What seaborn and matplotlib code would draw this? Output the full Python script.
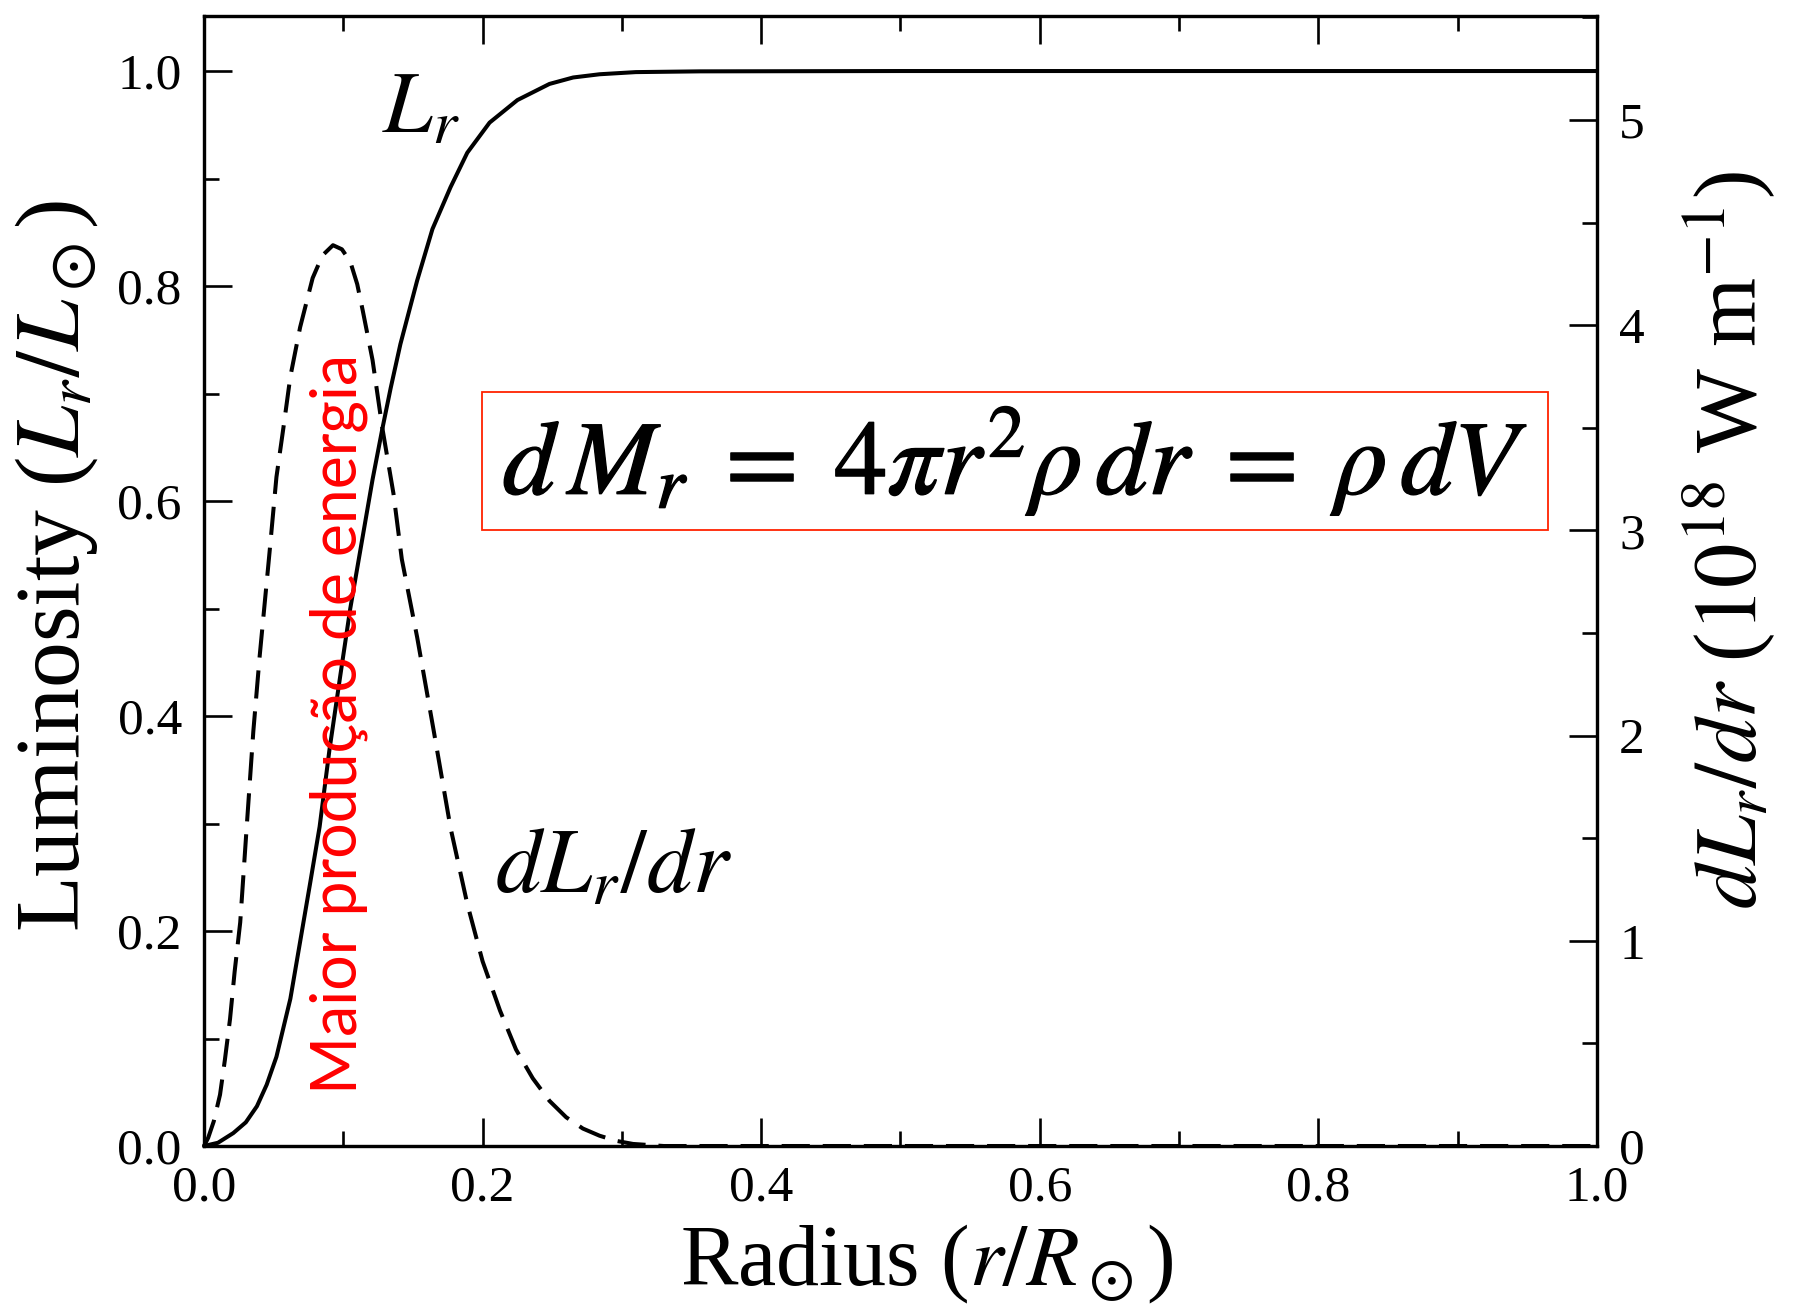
import matplotlib
matplotlib.use("Agg")
import matplotlib.pyplot as plt
import matplotlib.patheffects as pe
from matplotlib.patches import Rectangle
from matplotlib.ticker import MultipleLocator
import seaborn as sns

# Interior luminosity L_r / L_sun against fractional radius r / R_sun
radius_lum = [0.0, 0.01, 0.021, 0.03, 0.038, 0.045, 0.052, 0.062, 0.069,
              0.076, 0.083, 0.090, 0.098, 0.105, 0.111, 0.121, 0.128, 0.134,
              0.141, 0.153, 0.164, 0.177, 0.189, 0.205, 0.225, 0.248, 0.265,
              0.284, 0.31, 0.356, 0.5, 0.7, 1.0]
luminosity = [0.0, 0.003, 0.012, 0.022, 0.037, 0.057, 0.083, 0.137, 0.19,
              0.243, 0.297, 0.368, 0.439, 0.50, 0.545, 0.62, 0.667, 0.705,
              0.746, 0.805, 0.853, 0.892, 0.924, 0.952, 0.973, 0.988, 0.994,
              0.997, 0.999, 0.9997, 1.0, 1.0, 1.0]

# Energy generation gradient dL_r/dr in units of 1e18 W/m
radius_grad = [0.0, 0.003, 0.007, 0.0115, 0.015, 0.0187, 0.022, 0.026,
               0.0306, 0.0354, 0.040, 0.047, 0.052, 0.057, 0.062, 0.069,
               0.078, 0.085, 0.0926, 0.099, 0.105, 0.110, 0.114, 0.121,
               0.128, 0.136, 0.142, 0.153, 0.165, 0.177, 0.189, 0.200,
               0.2125, 0.224, 0.236, 0.248, 0.260, 0.272, 0.284, 0.296,
               0.308, 0.33, 0.5, 0.7, 1.0]
dL_dr = [0.0, 0.04, 0.12, 0.25, 0.42, 0.62, 0.85, 1.09,
         1.55, 2.02, 2.39, 2.89, 3.26, 3.50, 3.75, 3.99,
         4.23, 4.34, 4.39, 4.37, 4.31, 4.20, 4.07, 3.83,
         3.50, 3.18, 2.86, 2.48, 2.02, 1.55, 1.18, 0.90,
         0.66, 0.47, 0.33, 0.22, 0.14, 0.085, 0.05, 0.025,
         0.01, 0.0, 0.0, 0.0, 0.0]

left_ticks = [0.0, 0.2, 0.4, 0.6, 0.8, 1.0]
right_ticks = [0, 1, 2, 3, 4, 5]
x_ticks = [0.0, 0.2, 0.4, 0.6, 0.8, 1.0]

sns.set_theme(style="ticks")
plt.rcParams["font.family"] = ["Liberation Serif", "DejaVu Serif"]
plt.rcParams["mathtext.fontset"] = "stix"
plt.rcParams["axes.linewidth"] = 2.3
plt.rcParams["text.color"] = "black"
plt.rcParams["axes.labelcolor"] = "black"
plt.rcParams["axes.edgecolor"] = "black"
plt.rcParams["xtick.color"] = "black"
plt.rcParams["ytick.color"] = "black"
plt.rcParams["lines.solid_joinstyle"] = "round"
plt.rcParams["lines.dash_joinstyle"] = "round"

fig = plt.figure(figsize=(17.95, 13.10), dpi=100)
fig.patch.set_facecolor("white")
ax = fig.add_axes([0.11365, 0.12519, 0.77604, 0.8626])
ax2 = ax.twinx()

sns.lineplot(x=radius_lum, y=luminosity, ax=ax, color="black",
             linewidth=2.9, sort=False, estimator=None)
sns.lineplot(x=radius_grad, y=dL_dr, ax=ax2, color="black",
             linewidth=2.9, sort=False, estimator=None)
ax2.lines[0].set_dashes((7, 3.2))
for ln in ax.lines + ax2.lines:
    ln.set_clip_on(False)

ax.set_xlim(0, 1.0)
ax.set_ylim(0, 1.0512)
ax2.set_ylim(0, 5.507)

ax.set_xticks(x_ticks)
ax.set_xticklabels([f"{v:.1f}" for v in x_ticks])
ax.set_yticks(left_ticks)
ax.set_yticklabels([f"{v:.1f}" for v in left_ticks])
ax2.set_yticks(right_ticks)
ax2.set_yticklabels([str(v) for v in right_ticks])
ax.xaxis.set_minor_locator(MultipleLocator(0.1))
ax.yaxis.set_minor_locator(MultipleLocator(0.1))
ax2.yaxis.set_minor_locator(MultipleLocator(0.5))

ax.tick_params(axis="both", which="both", direction="in", width=1.9,
               colors="black", labelsize=37)
ax.tick_params(axis="x", which="both", top=True, bottom=True, pad=14)
ax.tick_params(axis="y", which="both", left=True, right=False, pad=16)
ax.tick_params(which="major", length=20)
ax.tick_params(which="minor", length=11)
ax2.tick_params(axis="y", which="both", direction="in", width=1.9,
                right=True, left=False, labelsize=37, pad=16, colors="black")
ax2.tick_params(which="major", length=20)
ax2.tick_params(which="minor", length=11)

for a in (ax, ax2):
    for s in a.spines.values():
        s.set_visible(True)
        s.set_color("black")
        s.set_linewidth(2.3)

ax.set_xlabel(r"Radius ($r/R_\odot$)", fontsize=62)
ax.set_ylabel(r"Luminosity ($L_r/L_\odot$)", fontsize=66)
ax2.set_ylabel(r"$dL_r/dr$ ($10^{18}$ W m$^{-1}$)", fontsize=64)
for lab in (ax.xaxis.label, ax.yaxis.label, ax2.yaxis.label):
    lab.set_ha("center")
    lab.set_va("center")
    lab.set_rotation_mode("default")
    lab.set_color("black")
ax.xaxis.set_label_coords(0.519, -0.105)
ax.yaxis.set_label_coords(-0.1055, 0.513)
ax2.yaxis.set_label_coords(1.0948, 0.536)
ax2.yaxis.label.set_rotation(90)

# Curve labels
ax.text(0.128, 0.943, r"$L_r$", fontsize=64, ha="left", va="baseline",
        color="black")
ax.text(0.209, 0.236, r"$dL_r/dr$", fontsize=66, ha="left", va="baseline",
        color="black")

# Annotation of the peak energy production region
ax.text(0.097, 0.3926, "Maior produção de energia", rotation=90,
        color="#ff0000", fontsize=45, ha="center", va="center",
        family=["Lato", "DejaVu Sans"])

# Mass shell equation in a red frame
fig.patches.append(Rectangle((0.2685, 0.5954), 0.5939, 0.1053,
                             transform=fig.transFigure, facecolor="white",
                             edgecolor="#ff2200", linewidth=1.3, zorder=5))
eq = fig.text(0.5655, 0.648,
              r"$d\,M_r \;=\; 4\pi r^2 \rho\, dr \;=\; \rho\, dV$",
              fontsize=76, ha="center", va="center", zorder=6, color="black")
eq.set_path_effects([pe.withStroke(linewidth=1.0, foreground="black")])

fig.savefig("out.png", dpi=100, facecolor="white")
